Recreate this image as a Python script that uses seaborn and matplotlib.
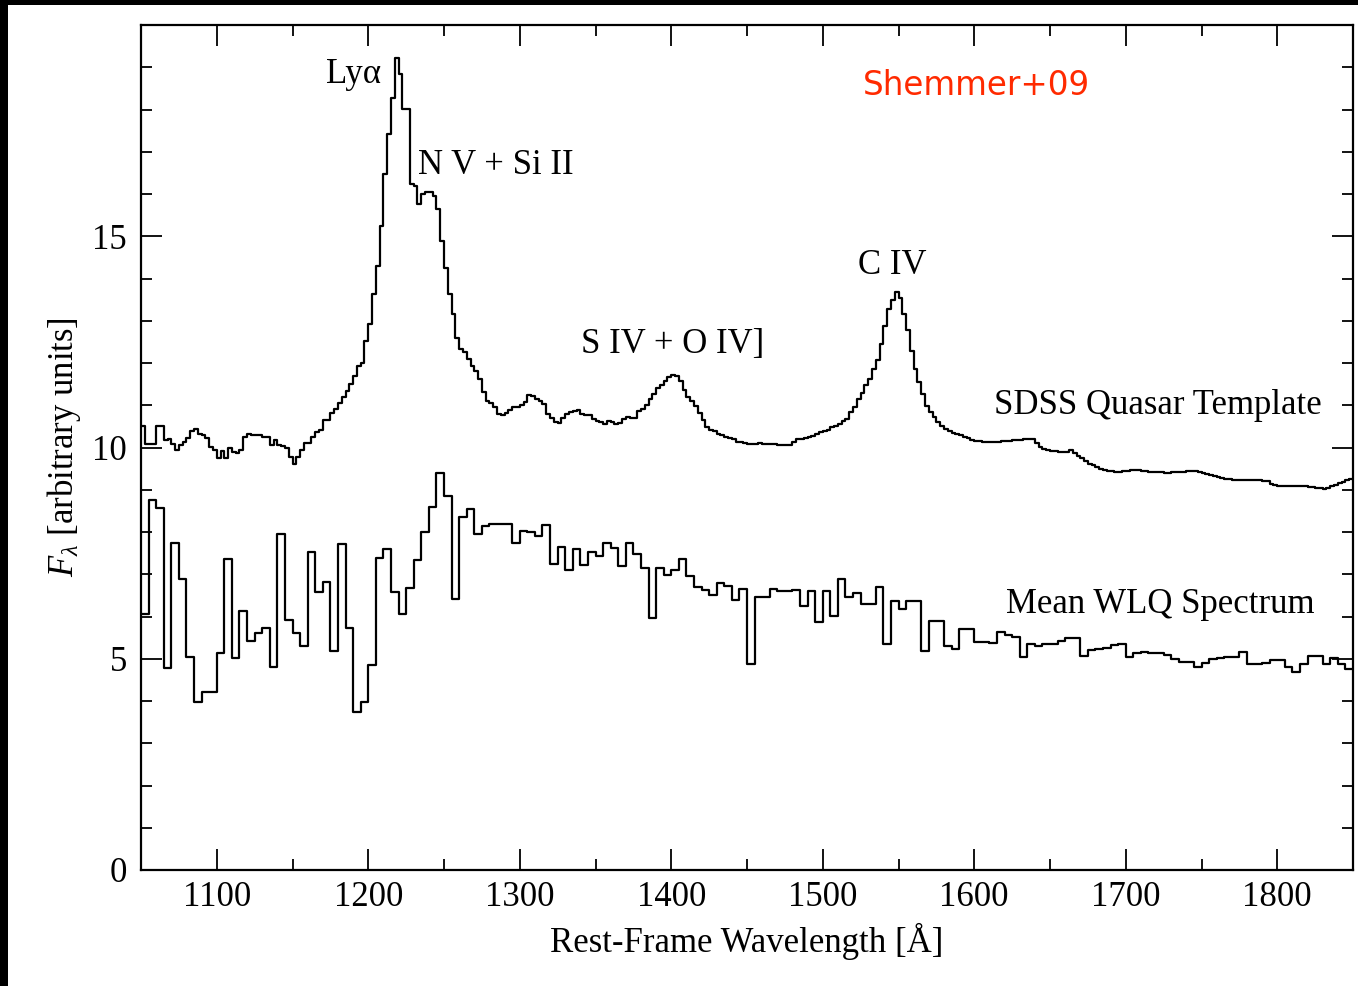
import numpy as np
import pandas as pd
import matplotlib
matplotlib.use("Agg")
import matplotlib.pyplot as plt
from matplotlib.ticker import MultipleLocator
from matplotlib.patches import Rectangle
import seaborn as sns

# ---------------------------------------------------------------------------
# Spectra (rest-frame wavelength grid given by start + bin width)
# ---------------------------------------------------------------------------
template_start = 1050.0   # Angstrom
template_bin = 2.5        # Angstrom
template_flux = [
    10.50, 10.09, 10.09, 10.09, 10.50, 10.50, 10.17, 10.19, 10.09, 9.95,
    10.07, 10.13, 10.23, 10.40, 10.44, 10.33, 10.29, 10.23, 10.02, 9.95,
    9.76, 9.91, 9.74, 9.98, 9.90, 9.88, 9.95, 10.25, 10.33, 10.30,
    10.30, 10.29, 10.26, 10.26, 10.05, 10.17, 10.07, 10.03, 9.98, 9.78,
    9.62, 9.78, 9.93, 10.10, 10.10, 10.25, 10.36, 10.42, 10.64, 10.66,
    10.81, 10.90, 11.05, 11.20, 11.33, 11.50, 11.70, 11.94, 12.00, 12.53,
    12.93, 13.63, 14.30, 15.25, 16.47, 17.42, 18.28, 19.23, 18.83, 18.01,
    18.01, 16.23, 16.20, 15.76, 16.00, 16.05, 16.05, 15.96, 15.64, 14.89,
    14.26, 13.63, 13.16, 12.60, 12.33, 12.25, 12.10, 11.94, 11.82, 11.62,
    11.31, 11.11, 11.05, 10.95, 10.80, 10.78, 10.82, 10.88, 10.97, 10.97,
    11.00, 11.07, 11.25, 11.22, 11.15, 11.10, 11.03, 10.80, 10.70, 10.60,
    10.58, 10.70, 10.80, 10.85, 10.87, 10.88, 10.80, 10.78, 10.76, 10.68,
    10.62, 10.60, 10.56, 10.62, 10.60, 10.56, 10.57, 10.68, 10.72, 10.70,
    10.70, 10.86, 10.90, 11.00, 11.15, 11.27, 11.40, 11.47, 11.58, 11.68,
    11.72, 11.70, 11.58, 11.35, 11.20, 11.11, 10.98, 10.81, 10.65, 10.48,
    10.42, 10.38, 10.32, 10.30, 10.25, 10.22, 10.19, 10.14, 10.12, 10.10,
    10.08, 10.08, 10.09, 10.10, 10.09, 10.08, 10.09, 10.09, 10.07, 10.06,
    10.05, 10.05, 10.12, 10.19, 10.20, 10.22, 10.26, 10.28, 10.31, 10.36,
    10.40, 10.42, 10.48, 10.51, 10.56, 10.62, 10.68, 10.84, 10.95, 11.15,
    11.30, 11.47, 11.62, 11.86, 12.06, 12.45, 12.88, 13.28, 13.48, 13.67,
    13.55, 13.16, 12.77, 12.29, 11.86, 11.54, 11.27, 10.99, 10.84, 10.72,
    10.60, 10.52, 10.44, 10.38, 10.34, 10.32, 10.30, 10.26, 10.22, 10.18,
    10.15, 10.15, 10.14, 10.13, 10.13, 10.13, 10.14, 10.15, 10.15, 10.16,
    10.17, 10.18, 10.18, 10.19, 10.20, 10.20, 10.10, 10.01, 9.97, 9.93,
    9.92, 9.91, 9.90, 9.90, 9.90, 9.95, 9.88, 9.80, 9.74, 9.68,
    9.62, 9.59, 9.55, 9.50, 9.46, 9.45, 9.44, 9.43, 9.43, 9.44,
    9.45, 9.46, 9.46, 9.46, 9.45, 9.44, 9.43, 9.43, 9.42, 9.41,
    9.40, 9.40, 9.41, 9.42, 9.43, 9.43, 9.44, 9.44, 9.44, 9.43,
    9.40, 9.38, 9.35, 9.33, 9.30, 9.28, 9.26, 9.25, 9.23, 9.23,
    9.22, 9.23, 9.24, 9.24, 9.23, 9.22, 9.21, 9.20, 9.14, 9.12,
    9.10, 9.10, 9.10, 9.09, 9.10, 9.09, 9.08, 9.08, 9.07, 9.06,
    9.05, 9.04, 9.02, 9.05, 9.08, 9.12, 9.15, 9.19, 9.22, 9.25,
]

wlq_start = 1050.0        # Angstrom
wlq_bin = 5.0             # Angstrom
wlq_flux = [
    6.07, 8.75, 8.56, 4.78, 7.74, 6.88, 5.04, 3.98, 4.21, 4.21,
    5.13, 7.36, 5.02, 6.13, 5.42, 5.61, 5.72, 4.80, 7.95, 5.91,
    5.61, 5.30, 7.53, 6.57, 6.82, 5.18, 7.72, 5.72, 3.73, 3.98,
    4.85, 7.38, 7.60, 6.58, 6.06, 6.68, 7.34, 8.00, 8.59, 9.40,
    8.85, 6.42, 8.36, 8.55, 7.96, 8.15, 8.18, 8.18, 8.18, 7.73,
    8.03, 8.00, 7.90, 8.17, 7.25, 7.65, 7.10, 7.59, 7.23, 7.52,
    7.44, 7.74, 7.63, 7.20, 7.74, 7.49, 7.15, 5.96, 7.15, 6.98,
    7.11, 7.37, 6.96, 6.70, 6.62, 6.51, 6.80, 6.73, 6.40, 6.65,
    4.87, 6.47, 6.47, 6.66, 6.61, 6.61, 6.63, 6.25, 6.61, 5.87,
    6.61, 6.02, 6.88, 6.47, 6.55, 6.29, 6.29, 6.69, 5.36, 6.37,
    6.17, 6.37, 6.37, 5.19, 5.90, 5.90, 5.31, 5.24, 5.70, 5.70,
    5.40, 5.40, 5.37, 5.64, 5.56, 5.52, 5.05, 5.36, 5.30, 5.35,
    5.35, 5.43, 5.48, 5.49, 5.06, 5.21, 5.24, 5.26, 5.33, 5.36,
    5.05, 5.13, 5.15, 5.13, 5.13, 5.09, 4.99, 4.93, 4.93, 4.81,
    4.89, 4.99, 5.01, 5.05, 5.05, 5.15, 4.87, 4.87, 4.89, 4.97,
    4.97, 4.81, 4.69, 4.87, 5.06, 5.06, 4.87, 5.01, 4.87, 4.75,
]

line_names = ["Lyα", "N V + Si II", "S IV + O IV]", "C IV"]
series_names = ["SDSS Quasar Template", "Mean WLQ Spectrum"]
credit = "Shemmer+09"

x_ticks = [1100, 1200, 1300, 1400, 1500, 1600, 1700, 1800]
y_ticks = [0, 5, 10, 15]


def binned(start, width, flux):
    """Left bin edges plus the closing edge, for a steps-post trace."""
    edges = start + width * np.arange(len(flux) + 1)
    values = list(flux) + [flux[-1]]
    return pd.DataFrame({"wavelength": edges, "flux": values})


template_df = binned(template_start, template_bin, template_flux)
wlq_df = binned(wlq_start, wlq_bin, wlq_flux)

# ---------------------------------------------------------------------------
# Style
# ---------------------------------------------------------------------------
sns.set_style("ticks")
plt.rcParams["font.family"] = ["Liberation Serif", "DejaVu Serif"]
plt.rcParams["mathtext.fontset"] = "custom"
plt.rcParams["mathtext.rm"] = "Liberation Serif"
plt.rcParams["mathtext.it"] = "Liberation Serif:italic"
plt.rcParams["text.color"] = "black"
plt.rcParams["axes.labelcolor"] = "black"
plt.rcParams["xtick.color"] = "black"
plt.rcParams["ytick.color"] = "black"

FS = 25

fig = plt.figure(figsize=(13.58, 9.86), dpi=100)
fig.patch.set_facecolor("white")
ax = fig.add_axes([141 / 1358, 1 - 870 / 986, (1353 - 141) / 1358, (870 - 25) / 986])

sns.lineplot(data=template_df, x="wavelength", y="flux", ax=ax,
             drawstyle="steps-post", estimator=None, sort=False,
             color="black", linewidth=1.6)
sns.lineplot(data=wlq_df, x="wavelength", y="flux", ax=ax,
             drawstyle="steps-post", estimator=None, sort=False,
             color="black", linewidth=1.6)

ax.set_xlim(1050, 1850)
ax.set_ylim(0, 20)
ax.set_xticks(x_ticks)
ax.set_yticks(y_ticks)
ax.xaxis.set_minor_locator(MultipleLocator(50))
ax.yaxis.set_minor_locator(MultipleLocator(1))
ax.tick_params(which="both", direction="in", top=True, right=True,
               width=1.3, color="black", labelsize=FS, labelcolor="black")
ax.tick_params(which="major", length=15)
ax.tick_params(which="minor", length=8)
ax.tick_params(axis="x", which="major", pad=8)
ax.tick_params(axis="y", which="major", pad=10)
for spine in ax.spines.values():
    spine.set_linewidth(1.6)
    spine.set_color("black")

ax.set_xlabel("Rest-Frame Wavelength [Å]", fontsize=FS, labelpad=6, color="black")
ax.set_ylabel(r"$F_{\lambda}$ [arbitrary units]", fontsize=FS, labelpad=7, color="black")

# Emission-line identifications
ax.text(1190.5, 18.84, line_names[0], fontsize=FS, ha="center", va="center")
ax.text(1233.0, 16.67, line_names[1], fontsize=FS, ha="left", va="center")
ax.text(1401.0, 12.43, line_names[2], fontsize=FS, ha="center", va="center")
ax.text(1546.0, 14.30, line_names[3], fontsize=FS, ha="center", va="center")

# Spectrum names
ax.text(1829.5, 10.99, series_names[0], fontsize=FS, ha="right", va="center")
ax.text(1824.5, 6.29, series_names[1], fontsize=FS, ha="right", va="center")

# Reference tag
ax.text(1601.5, 18.56, credit, fontsize=23.5, ha="center", va="center",
        color="#ff2a00", family=["DejaVu Sans"])

# Dark frame along the top and left edges of the figure
fig.patches.append(Rectangle((0, 0), 8 / 1358, 1, transform=fig.transFigure,
                             facecolor="black", edgecolor="none", zorder=-1))
fig.patches.append(Rectangle((0, 1 - 5 / 986), 1, 5 / 986, transform=fig.transFigure,
                             facecolor="black", edgecolor="none", zorder=-1))

fig.savefig("out.png", dpi=100, facecolor="white")
